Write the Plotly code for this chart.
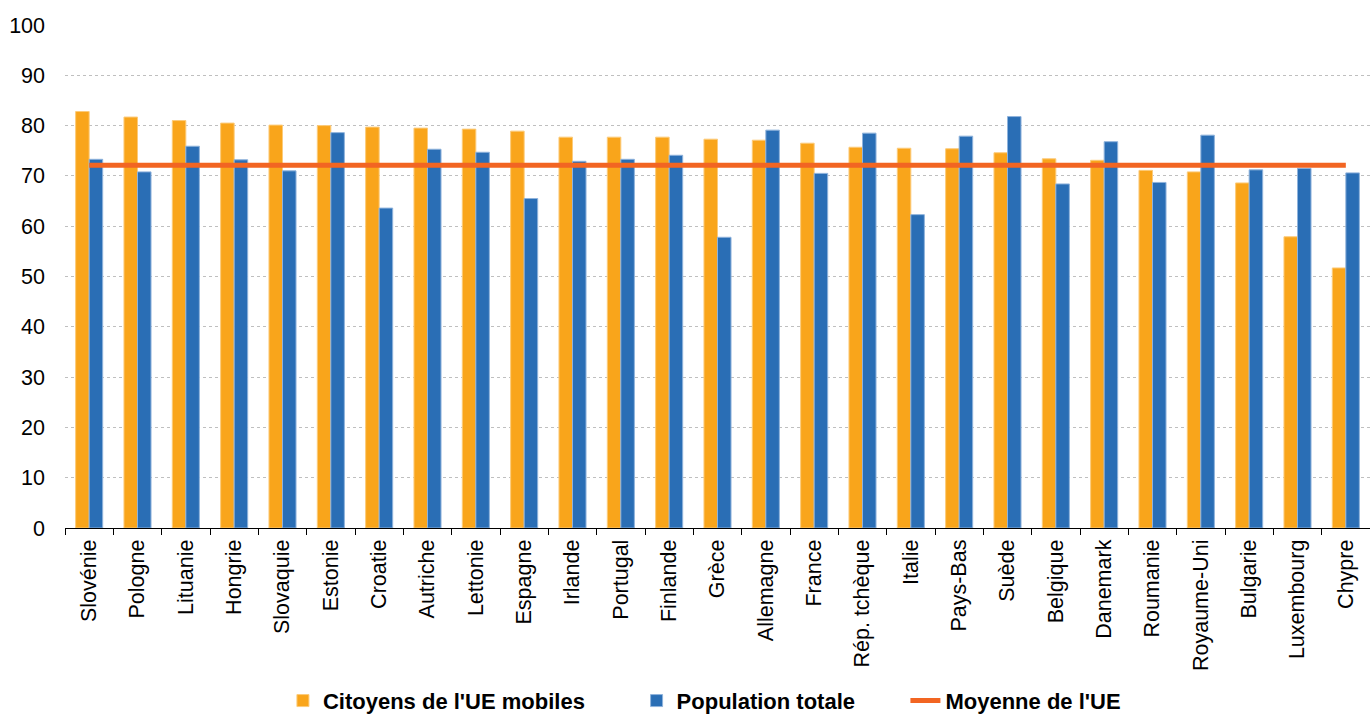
import plotly.graph_objects as go

countries = ["Slovénie", "Pologne", "Lituanie", "Hongrie", "Slovaquie", "Estonie", "Croatie",
             "Autriche", "Lettonie", "Espagne", "Irlande", "Portugal", "Finlande", "Grèce",
             "Allemagne", "France", "Rép. tchèque", "Italie", "Pays-Bas", "Suède", "Belgique",
             "Danemark", "Roumanie", "Royaume-Uni", "Bulgarie", "Luxembourg", "Chypre"]

mobile_eu = [82.8, 81.7, 81.0, 80.5, 80.1, 80.0, 79.7, 79.5, 79.3, 78.9, 77.7, 77.7, 77.7, 77.3,
             77.1, 76.5, 75.7, 75.5, 75.4, 74.6, 73.4, 73.1, 71.1, 70.8, 68.6, 57.9, 51.7]

total_pop = [73.3, 70.8, 75.9, 73.2, 71.0, 78.6, 63.6, 75.3, 74.7, 65.5, 72.9, 73.3, 74.1, 57.8,
             79.1, 70.5, 78.5, 62.3, 77.9, 81.8, 68.4, 76.8, 68.7, 78.1, 71.2, 71.5, 70.6]

eu_average = [72.1, 72.1, 72.1, 72.1, 72.1, 72.1, 72.1, 72.1, 72.1, 72.1, 72.1, 72.1, 72.1, 72.1,
              72.1, 72.1, 72.1, 72.1, 72.1, 72.1, 72.1, 72.1, 72.1, 72.1, 72.1, 72.1, 72.1]

y_ticks = [0, 10, 20, 30, 40, 50, 60, 70, 80, 90, 100]

ORANGE = "#F9A51B"
BLUE = "#2A6EB5"
RED = "#F26522"
FONT = "Liberation Sans, Arial, sans-serif"

fig = go.Figure()
fig.add_trace(go.Bar(x=countries, y=mobile_eu, name="Citoyens de l'UE mobiles",
                     marker=dict(color=ORANGE, line=dict(color="#FCCB7A", width=1)),
                     legend="legend"))
fig.add_trace(go.Bar(x=countries, y=total_pop, name="Population totale",
                     marker=dict(color=BLUE, line=dict(color="#8FB3DC", width=1)),
                     legend="legend2"))
fig.add_trace(go.Scatter(x=countries, y=eu_average, name="Moyenne de l'UE", mode="lines",
                         line=dict(color=RED, width=5), legend="legend3"))

legend_common = dict(orientation="h", yref="container", yanchor="middle", y=0.024,
                     xanchor="left",
                     font=dict(family=FONT, size=22, color="#000", weight="bold"),
                     bgcolor="rgba(0,0,0,0)")

fig.update_layout(
    width=1370, height=718,
    margin=dict(l=65, r=0, t=25, b=190),
    paper_bgcolor="white", plot_bgcolor="white",
    barmode="group", bargap=0.44, bargroupgap=0,
    font=dict(family=FONT, size=21.5, color="#000"),
    showlegend=True,
    legend=dict(**legend_common, x=0.167),
    legend2=dict(**legend_common, x=0.438),
    legend3=dict(**legend_common, x=0.644),
    xaxis=dict(
        type="category", tickangle=-90, showline=True, linecolor="#000", linewidth=1,
        ticks="outside", tickson="boundaries", ticklen=6, tickcolor="#000",
        showgrid=False, ticklabelstandoff=2,
        tickfont=dict(family=FONT, size=21.5, color="#000"),
    ),
    yaxis=dict(
        range=[0, 100], tickvals=y_ticks, showline=False, zeroline=False,
        showgrid=True, gridcolor="#BFBFBF", griddash="dot", gridwidth=1,
        ticks="", ticklabelstandoff=19,
        tickfont=dict(family=FONT, size=21.5, color="#000"),
    ),
)

fig.write_html("out.html", config={"displayModeBar": False},
               post_script="document.body.style.margin='0px';")
